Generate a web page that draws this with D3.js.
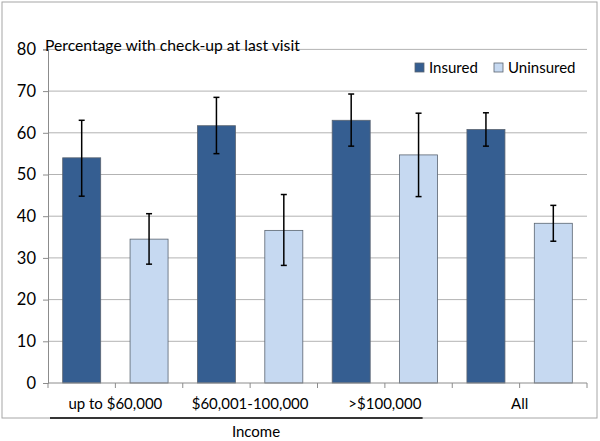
<!DOCTYPE html>
<html><head><meta charset="utf-8">
<script src="https://cdnjs.cloudflare.com/ajax/libs/d3/7.8.5/d3.min.js"></script>
<style>body{margin:0;background:#fff}svg{display:block}text{font-family:Lato,"Open Sans",sans-serif;fill:#000}</style>
</head><body><svg id="c" width="600" height="441"></svg>
<script>
const categories = ["up to $60,000", "$60,001-100,000", ">$100,000", "All"];
const seriesNames = ["Insured", "Uninsured"];
const insured = [54.0, 61.7, 63.0, 60.8];
const uninsured = [34.5, 36.6, 54.7, 38.3];
const insuredLow = [44.8, 55.0, 56.8, 56.8];
const insuredHigh = [63.0, 68.5, 69.3, 64.8];
const uninsuredLow = [28.5, 28.2, 44.7, 34.0];
const uninsuredHigh = [40.6, 45.2, 64.7, 42.6];
const yTicks = [0, 10, 20, 30, 40, 50, 60, 70, 80];
const colors = ["#355E91", "#C6D9F1"];

const svg = d3.select("#c");
const L = 48, R = 587, T = 49.4, B = 383;
const y = d3.scaleLinear().domain([0, 80]).range([B, T]);
const x0 = d3.scaleBand().domain(categories).range([L, R]).padding(0);
const x1 = d3.scaleBand().domain(seriesNames).range([0, x0.bandwidth()]).padding(0);
const barW = 38;

// frame
svg.append("rect").attr("x", 2).attr("y", 2).attr("width", 595).attr("height", 416)
  .attr("fill", "none").attr("stroke", "#A6A6A6").attr("stroke-width", 1);

// gridlines
svg.append("g").selectAll("line").data(yTicks.filter(d => d > 0)).join("line")
  .attr("x1", L).attr("x2", R).attr("y1", d => y(d)).attr("y2", d => y(d))
  .attr("stroke", "#B3B3B3").attr("stroke-width", 1);

// y axis
const ya = svg.append("g").attr("transform", `translate(${L},0)`)
  .call(d3.axisLeft(y).tickValues(yTicks).tickSize(5).tickPadding(7));
ya.select(".domain").attr("stroke", "#8C8C8C");
ya.selectAll(".tick line").attr("stroke", "#8C8C8C");
ya.selectAll("text").attr("font-size", 16.5).attr("font-family", "Lato, sans-serif").attr("fill", "#000");

// bars
const data = categories.map((c, i) => [
  {c, s: "Insured", v: insured[i], lo: insuredLow[i], hi: insuredHigh[i]},
  {c, s: "Uninsured", v: uninsured[i], lo: uninsuredLow[i], hi: uninsuredHigh[i]}
]).flat();
const cx = d => x0(d.c) + x1(d.s) + x1.bandwidth() / 2;
svg.append("g").selectAll("rect").data(data).join("rect")
  .attr("x", d => cx(d) - barW / 2).attr("width", barW)
  .attr("y", d => y(d.v)).attr("height", d => y(0) - y(d.v))
  .attr("fill", d => colors[seriesNames.indexOf(d.s)])
  .attr("stroke", "#5A6470").attr("stroke-width", 0.8);

// error bars
const eb = svg.append("g").attr("stroke", "#000").attr("stroke-width", 1.5);
eb.selectAll("line.v").data(data).join("line").attr("class", "v")
  .attr("x1", cx).attr("x2", cx).attr("y1", d => y(d.lo)).attr("y2", d => y(d.hi));
eb.selectAll("line.t").data(data).join("line").attr("class", "t")
  .attr("x1", d => cx(d) - 3).attr("x2", d => cx(d) + 3).attr("y1", d => y(d.hi)).attr("y2", d => y(d.hi));
eb.selectAll("line.b").data(data).join("line").attr("class", "b")
  .attr("x1", d => cx(d) - 3).attr("x2", d => cx(d) + 3).attr("y1", d => y(d.lo)).attr("y2", d => y(d.lo));

// x axis
svg.append("line").attr("x1", L).attr("x2", R).attr("y1", B).attr("y2", B).attr("stroke", "#8C8C8C");
const tickXs = [];
categories.forEach(c => { tickXs.push(x0(c)); tickXs.push(x0(c) + x1.bandwidth()); });
tickXs.push(R);
svg.append("g").selectAll("line").data(tickXs).join("line")
  .attr("x1", d => d).attr("x2", d => d).attr("y1", B).attr("y2", B + 5).attr("stroke", "#8C8C8C");
svg.append("g").selectAll("text").data(categories).join("text")
  .attr("x", d => x0(d) + x0.bandwidth() / 2).attr("y", 409)
  .attr("text-anchor", "middle").attr("font-size", 15).text(d => d);

// income group line and label
svg.append("line").attr("x1", x0(categories[0]) + 2).attr("x2", x0(categories[2]) + x0.bandwidth() * 0.78)
  .attr("y1", 418).attr("y2", 418).attr("stroke", "#000").attr("stroke-width", 1.5);
svg.append("text").attr("x", 256).attr("y", 437).attr("text-anchor", "middle").attr("font-size", 15).text("Income");

// title
svg.append("text").attr("x", 45).attr("y", 51).attr("font-size", 15.7).text("Percentage with check-up at last visit");

// legend
const lg = svg.append("g");
const lgX = [415, 494];
seriesNames.forEach((s, i) => {
  lg.append("rect").attr("x", lgX[i]).attr("y", 63).attr("width", 9).attr("height", 9)
    .attr("fill", colors[i]).attr("stroke", "#5A6470").attr("stroke-width", 0.8);
  lg.append("text").attr("x", lgX[i] + 14).attr("y", 73).attr("font-size", 15).text(s);
});
</script></body></html>
